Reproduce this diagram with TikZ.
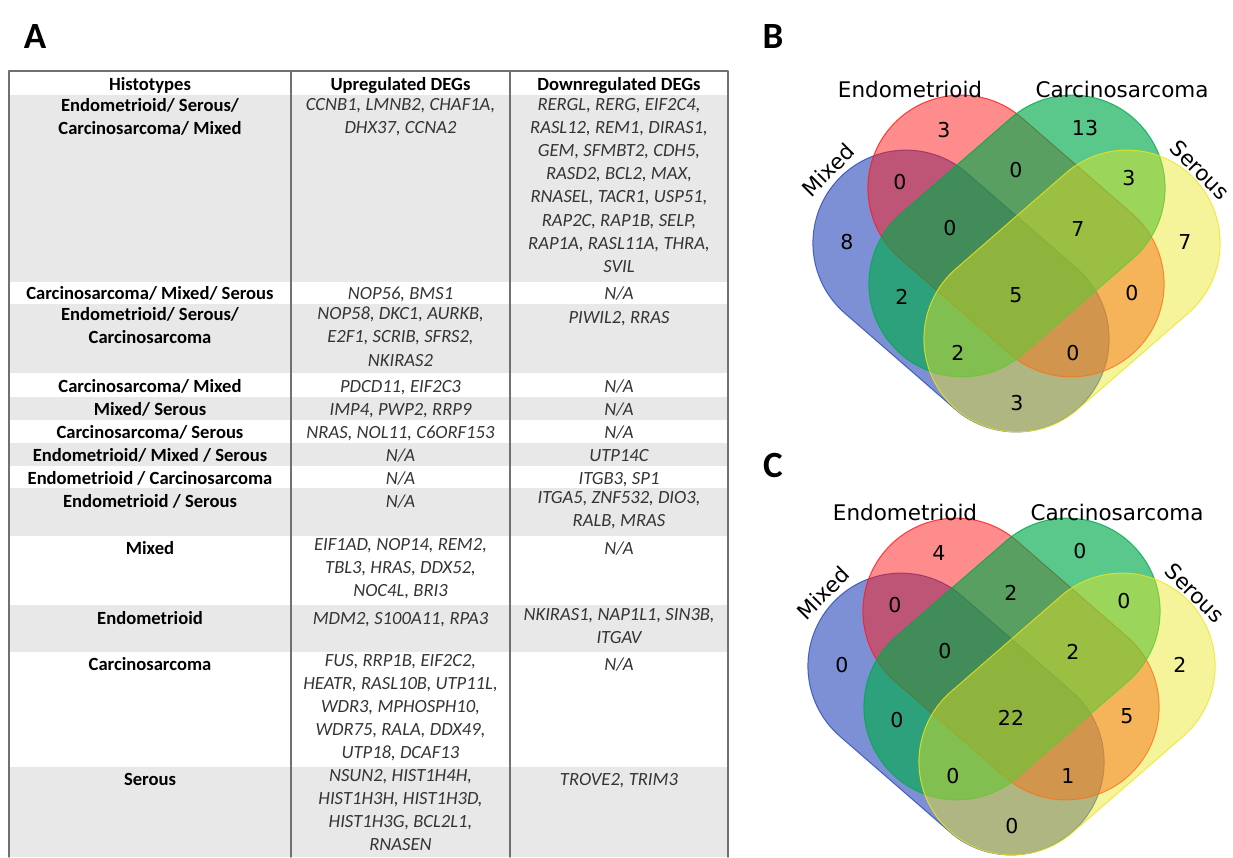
\documentclass[tikz,border=0pt]{standalone}
\usepackage{fontspec}
\setmainfont{Carlito}
\newfontfamily\vennfont{DejaVu Sans}
\definecolor{rowgray}{RGB}{232,232,232}
\definecolor{linegray}{RGB}{112,112,112}
\definecolor{genegray}{RGB}{52,52,52}
\definecolor{mixedblue}{RGB}{40,70,185}
\definecolor{endored}{RGB}{255,25,25}
\definecolor{carcgreen}{RGB}{0,170,75}
\definecolor{seryellow}{RGB}{235,230,30}
\begin{document}
\begin{tikzpicture}[x=1pt, y=-1pt, line join=round, line cap=round,
    cell/.style={anchor=north, inner sep=0pt, align=center, yshift=10.2pt,
      execute at begin node=\strut},
    histo/.style={cell, font=\fontsize{18.6}{23.2}\selectfont\bfseries},
    gene/.style={cell, text=genegray, font=\fontsize{18.6}{23.2}\selectfont\itshape},
    panel/.style={inner sep=0pt, font=\fontsize{37}{40}\selectfont\bfseries},
    tableline/.style={linegray, line width=1.4pt},
    capsule/.style={rounded corners=93pt, line width=1pt, draw opacity=0.8},
    setname/.style={inner sep=0pt, font=\vennfont\fontsize{21.5}{23}\selectfont},
    num/.style={inner sep=0pt, font=\vennfont\fontsize{20.5}{22}\selectfont}]
    \useasboundingbox (0,0) rectangle (1233,857);
    \def\ca{150} \def\cb{400.5} \def\cc{619} % column centres

    % panel A: table
    \foreach \t/\b in {95/282, 304/373, 397/420, 443/466, 488/536, 605/652, 767/857}
        \fill[rowgray] (9,\t) rectangle (728,\b);
    \draw[tableline] (9,857) -- (9,71) -- (728,71) -- (728,857);
    \draw[tableline] (291,71) -- (291,857);
    \draw[tableline] (510,71) -- (510,857);

    \node[panel] (A) at (35,37) {A};
    \node[histo] (hHist) at (\ca,84) {Histotypes};
    \node[histo] (hUp) at (\cb,84) {Upregulated DEGs};
    \node[histo] (hDown) at (\cc,84) {Downregulated DEGs};

    \node[histo] (r1a) at (\ca,108) {Endometrioid/ Serous/\\Carcinosarcoma/ Mixed};
    \node[gene] (r1b) at (\cb,108) {CCNB1, LMNB2, CHAF1A,\\DHX37, CCNA2};
    \node[gene] (r1c) at (\cc,108) {RERGL, RERG, EIF2C4,\\RASL12, REM1, DIRAS1,\\GEM, SFMBT2, CDH5,\\RASD2, BCL2, MAX,\\RNASEL, TACR1, USP51,\\RAP2C, RAP1B, SELP,\\RAP1A, RASL11A, THRA,\\SVIL};

    \node[histo] (r2a) at (\ca,293) {Carcinosarcoma/ Mixed/ Serous};
    \node[gene] (r2b) at (\cb,293) {NOP56, BMS1};
    \node[gene] (r2c) at (\cc,293) {N/A};

    \node[histo] (r3a) at (\ca,317) {Endometrioid/ Serous/\\Carcinosarcoma};
    \node[gene] (r3b) at (\cb,317) {NOP58, DKC1, AURKB,\\E2F1, SCRIB, SFRS2,\\NKIRAS2};
    \node[gene] (r3c) at (\cc,317) {PIWIL2, RRAS};

    \node[histo] (r4a) at (\ca,386) {Carcinosarcoma/ Mixed};
    \node[gene] (r4b) at (\cb,386) {PDCD11, EIF2C3};
    \node[gene] (r4c) at (\cc,386) {N/A};

    \node[histo] (r5a) at (\ca,409) {Mixed/ Serous};
    \node[gene] (r5b) at (\cb,409) {IMP4, PWP2, RRP9};
    \node[gene] (r5c) at (\cc,409) {N/A};

    \node[histo] (r6a) at (\ca,432) {Carcinosarcoma/ Serous};
    \node[gene] (r6b) at (\cb,432) {NRAS, NOL11, C6ORF153};
    \node[gene] (r6c) at (\cc,432) {N/A};

    \node[histo] (r7a) at (\ca,455) {Endometrioid/ Mixed / Serous};
    \node[gene] (r7b) at (\cb,455) {N/A};
    \node[gene] (r7c) at (\cc,455) {UTP14C};

    \node[histo] (r8a) at (\ca,478) {Endometrioid / Carcinosarcoma};
    \node[gene] (r8b) at (\cb,478) {N/A};
    \node[gene] (r8c) at (\cc,478) {ITGB3, SP1};

    \node[histo] (r9a) at (\ca,501) {Endometrioid / Serous};
    \node[gene] (r9b) at (\cb,501) {N/A};
    \node[gene] (r9c) at (\cc,501) {ITGA5, ZNF532, DIO3,\\RALB, MRAS};

    \node[histo] (r10a) at (\ca,548) {Mixed};
    \node[gene] (r10b) at (\cb,548) {EIF1AD, NOP14, REM2,\\TBL3, HRAS, DDX52,\\NOC4L, BRI3};
    \node[gene] (r10c) at (\cc,548) {N/A};

    \node[histo] (r11a) at (\ca,618) {Endometrioid};
    \node[gene] (r11b) at (\cb,618) {MDM2, S100A11, RPA3};
    \node[gene] (r11c) at (\cc,618) {NKIRAS1, NAP1L1, SIN3B,\\ITGAV};

    \node[histo] (r12a) at (\ca,664) {Carcinosarcoma};
    \node[gene] (r12b) at (\cb,664) {FUS, RRP1B, EIF2C2,\\HEATR, RASL10B, UTP11L,\\WDR3, MPHOSPH10,\\WDR75, RALA, DDX49,\\UTP18, DCAF13};
    \node[gene] (r12c) at (\cc,664) {N/A};

    \node[histo] (r13a) at (\ca,779) {Serous};
    \node[gene] (r13b) at (\cb,779) {NSUN2, HIST1H4H,\\HIST1H3H, HIST1H3D,\\HIST1H3G, BCL2L1,\\RNASEN};
    \node[gene] (r13c) at (\cc,779) {TROVE2, TRIM3};

    % panels B and C: four-set Venn diagrams
    \def\vennsets{
        \draw[capsule, draw=mixedblue, fill=mixedblue, fill opacity=0.6,
            rotate around={-41:(961,291)}] (795,198) rectangle (1127,384);
        \draw[capsule, draw=endored, fill=endored, fill opacity=0.5,
            rotate around={-41:(1016,236)}] (850,143) rectangle (1182,329);
        \draw[capsule, draw=carcgreen, fill=carcgreen, fill opacity=0.65,
            rotate around={41:(1017,236)}] (851,143) rectangle (1183,329);
        \draw[capsule, draw=seryellow, fill=seryellow, fill opacity=0.45,
            rotate around={41:(1072,291)}] (906,198) rectangle (1238,384);
    }
    \begin{scope}
        \vennsets
    \end{scope}
    \begin{scope}[shift={(-5,423)}]
        \vennsets
    \end{scope}

    \node[panel] (B) at (773,37) {B};
    \node[panel] (C) at (773,465) {C};
    \foreach \p/\dx/\dy in {b/0/0, c/-5/423} {
        \node[setname] (\p endo) at (910+\dx,89+\dy) {Endometrioid};
        \node[setname] (\p carc) at (1122+\dx,89+\dy) {Carcinosarcoma};
        \node[setname, rotate=45] (\p mixed) at (828+\dx,170+\dy) {Mixed};
        \node[setname, rotate=-45] (\p serous) at (1200+\dx,170+\dy) {Serous};
    }
    \foreach \x/\y/\vb/\vc [count=\i] in {944/130/3/4, 1085/128/13/0, 900/182/0/0,
        1016/170/0/2, 1129/178/3/0, 847/242/8/0, 950/228/0/0, 1078/229/7/2,
        1185/242/7/2, 902/297/2/0, 1016/295/5/22, 1132/293/0/5, 958/353/2/0,
        1073/353/0/1, 1017/403/3/0} {
        \node[num] (b\i) at (\x,\y) {\vb};
        \node[num] (c\i) at (\x-5,\y+423) {\vc};
    }
\end{tikzpicture}
\end{document}
